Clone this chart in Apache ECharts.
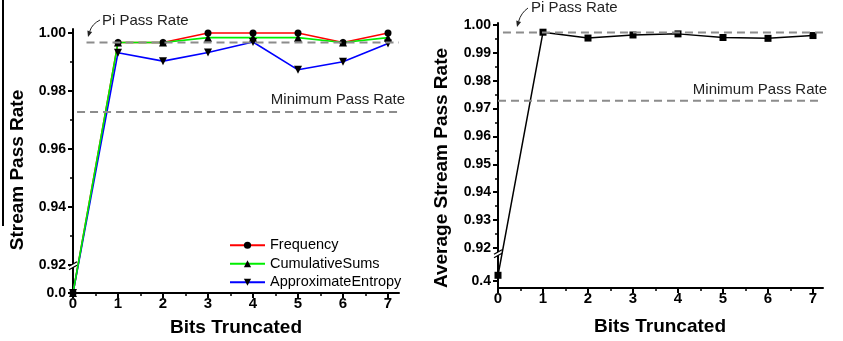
<!DOCTYPE html>
<html>
<head>
<meta charset="utf-8">
<script src="https://cdn.jsdelivr.net/npm/echarts@6.0.0/dist/echarts.min.js"></script>
<style>
html, body { margin: 0; padding: 0; background: #fff; }
#chart { width: 843px; height: 341px; }
</style>
</head>
<body>
<div id="chart"></div>
<script>
var bits = [0, 1, 2, 3, 4, 5, 6, 7];
var bitsMinor = [0.5, 1.5, 2.5, 3.5, 4.5, 5.5, 6.5];

var frequency = [0.0, 0.9967, 0.9967, 1.0, 1.0, 1.0, 0.9967, 1.0];
var cumulativeSums = [0.0, 0.9967, 0.9967, 0.9984, 0.9984, 0.9984, 0.9967, 0.9984];
var approximateEntropy = [0.0, 0.9932, 0.9903, 0.9933, 0.9969, 0.9873, 0.9901, 0.9964];
var averageRate = [0.42, 0.9974, 0.9953, 0.9964, 0.9968, 0.9955, 0.9952, 0.9962];

var piRateLeft = 0.9967;
var piRateRight = 0.9973;
var minPassRate = 0.9728;

var leftTicks = [0.0, 0.92, 0.94, 0.96, 0.98, 1.00];
var leftTickLabels = ['0.0', '0.92', '0.94', '0.96', '0.98', '1.00'];
var leftMinor = [0.93, 0.95, 0.97, 0.99];
var rightTicks = [0.4, 0.92, 0.93, 0.94, 0.95, 0.96, 0.97, 0.98, 0.99, 1.00];
var rightTickLabels = ['0.4', '0.92', '0.93', '0.94', '0.95', '0.96', '0.97', '0.98', '0.99', '1.00'];
var rightMinor = [0.925, 0.935, 0.945, 0.955, 0.965, 0.975, 0.985, 0.995];

// broken y axes: values under the break get squeezed into a short strip at the bottom
function leftY(v) { return v >= 0.9 ? v : 0.910345 + v * 0.01; }
function rightY(v) { return v >= 0.9 ? v : 0.90816 + (v - 0.4) * 0.1024; }

var FONT = '"Liberation Sans", Arial, sans-serif';

function pts(values, fy) {
    return bits.map(function (b, i) { return [b, fy(values[i])]; });
}

function labelFor(ticks, labels, fy) {
    return function (val) {
        for (var i = 0; i < ticks.length; i++) {
            if (Math.abs(fy(ticks[i]) - val) < 1e-6) return labels[i];
        }
        return '';
    };
}

// main axes: line + labels only
function xMain(grid, max) {
    return {
        type: 'value', gridIndex: grid, min: 0, max: max, position: 'bottom',
        axisLine: { onZero: false, lineStyle: { color: '#000', width: 2 } },
        axisTick: { show: false },
        axisLabel: { customValues: bits, margin: 3, color: '#000', fontSize: 15, fontWeight: 'bold', fontFamily: FONT },
        splitLine: { show: false }
    };
}
function yMain(grid, min, max, ticks, labels, fy) {
    return {
        type: 'value', gridIndex: grid, min: min, max: max, position: 'left',
        axisLine: { show: true, onZero: false, lineStyle: { color: '#000', width: 2 } },
        axisTick: { show: false },
        axisLabel: {
            customValues: ticks.map(fy), margin: 7, color: '#000', fontSize: 14,
            fontWeight: 'bold', fontFamily: FONT, formatter: labelFor(ticks, labels, fy)
        },
        splitLine: { show: false }
    };
}
// tick-only axes: put on the far side and pulled back onto the main axis line
function xTicks(grid, max, height, values, len, w) {
    return {
        type: 'value', gridIndex: grid, min: 0, max: max, position: 'top', offset: -height,
        axisLine: { show: false, onZero: false },
        axisTick: { show: true, inside: true, customValues: values, length: len, lineStyle: { color: '#000', width: w } },
        axisLabel: { show: false },
        splitLine: { show: false }
    };
}
function yTicks(grid, min, max, width, values, len, w) {
    return {
        type: 'value', gridIndex: grid, min: min, max: max, position: 'right', offset: -width,
        axisLine: { show: false, onZero: false },
        axisTick: { show: true, inside: true, customValues: values, length: len, lineStyle: { color: '#000', width: w } },
        axisLabel: { show: false },
        splitLine: { show: false }
    };
}

function refLine(xi, yi, x0, x1, y) {
    return {
        type: 'line', xAxisIndex: xi, yAxisIndex: yi, silent: true, symbol: 'none', z: 4,
        data: [[x0, y], [x1, y]],
        lineStyle: { color: '#8c8c8c', width: 2, type: [8, 5] }
    };
}

function arrow(x0, y0, cx, cy, x1, y1) {
    var dx = x1 - cx, dy = y1 - cy, len = Math.sqrt(dx * dx + dy * dy);
    var ux = dx / len, uy = dy / len, h = 6, w = 2.5;
    var bx = x1 - ux * h, by = y1 - uy * h;
    return [
        { type: 'bezierCurve', shape: { x1: x0, y1: y0, x2: bx, y2: by, cpx1: cx, cpy1: cy },
          style: { stroke: '#222', lineWidth: 1, fill: null } },
        { type: 'polygon', shape: { points: [[x1, y1], [bx - uy * w, by + ux * w], [bx + uy * w, by - ux * w]] },
          style: { fill: '#222' } }
    ];
}

function breakMark(x, y) {
    return [
        { type: 'polygon', z: 1, shape: { points: [[x - 2.5, y + 1.5], [x + 2.5, y - 1.5], [x + 2.5, y + 2], [x - 2.5, y + 5]] },
          style: { fill: '#fff' } },
        { type: 'line', z: 1, shape: { x1: x - 4, y1: y + 2.3, x2: x + 4, y2: y - 2.3 }, style: { stroke: '#000', lineWidth: 1.3 } },
        { type: 'line', z: 1, shape: { x1: x - 4, y1: y + 5.8, x2: x + 4, y2: y + 1.2 }, style: { stroke: '#000', lineWidth: 1.3 } }
    ];
}

var LEFT_W = 326, LEFT_H = 264, RIGHT_W = 325, RIGHT_H = 265;
var LEFT_MAX_X = LEFT_W / 45;
var RIGHT_MAX_X = RIGHT_W / 45;
var L_MIN = 0.910345, L_MAX = 1.00138;
var R_MIN = 0.90565, R_MAX = 1.0007;

var graphics = [
    { type: 'line', shape: { x1: 3, y1: 0, x2: 3, y2: 226 }, style: { stroke: '#000', lineWidth: 2 } },
    { type: 'text', x: 18, y: 170, rotation: Math.PI / 2,
      style: { text: 'Stream Pass Rate', font: 'bold 19px ' + FONT, fill: '#000', align: 'center', verticalAlign: 'middle' } },
    { type: 'text', x: 442, y: 168, rotation: Math.PI / 2,
      style: { text: 'Average Stream Pass Rate', font: 'bold 19px ' + FONT, fill: '#000', align: 'center', verticalAlign: 'middle' } },
    { type: 'text', x: 236, y: 328,
      style: { text: 'Bits Truncated', font: 'bold 19px ' + FONT, fill: '#000', align: 'center', verticalAlign: 'middle' } },
    { type: 'text', x: 660, y: 327,
      style: { text: 'Bits Truncated', font: 'bold 19px ' + FONT, fill: '#000', align: 'center', verticalAlign: 'middle' } },
    { type: 'text', x: 102, y: 21,
      style: { text: 'Pi Pass Rate', font: '15px ' + FONT, fill: '#222', align: 'left', verticalAlign: 'middle' } },
    { type: 'text', x: 531, y: 8,
      style: { text: 'Pi Pass Rate', font: '15px ' + FONT, fill: '#222', align: 'left', verticalAlign: 'middle' } },
    { type: 'text', x: 405, y: 100,
      style: { text: 'Minimum Pass Rate', font: '15px ' + FONT, fill: '#222', align: 'right', verticalAlign: 'middle' } },
    { type: 'text', x: 827, y: 90,
      style: { text: 'Minimum Pass Rate', font: '15px ' + FONT, fill: '#222', align: 'right', verticalAlign: 'middle' } }
].concat(arrow(100, 20, 92, 24, 88, 37))
 .concat(arrow(528, 8, 521, 13, 517, 27))
 .concat(breakMark(73, 264))
 .concat(breakMark(498, 252));

var myChart = echarts.init(document.getElementById('chart'), null, { renderer: 'canvas' });

option = {
    animation: false,
    backgroundColor: '#fff',
    grid: [
        { left: 73, top: 29, width: LEFT_W, height: LEFT_H },
        { left: 498, top: 23, width: RIGHT_W, height: RIGHT_H }
    ],
    xAxis: [
        xMain(0, LEFT_MAX_X),
        xTicks(0, LEFT_MAX_X, LEFT_H, bits, 5, 2),
        xTicks(0, LEFT_MAX_X, LEFT_H, bitsMinor, 3, 1.5),
        xMain(1, RIGHT_MAX_X),
        xTicks(1, RIGHT_MAX_X, RIGHT_H, bits, 5, 2),
        xTicks(1, RIGHT_MAX_X, RIGHT_H, bitsMinor, 3, 1.5)
    ],
    yAxis: [
        yMain(0, L_MIN, L_MAX, leftTicks, leftTickLabels, leftY),
        yTicks(0, L_MIN, L_MAX, LEFT_W, leftTicks.map(leftY), 5, 2),
        yTicks(0, L_MIN, L_MAX, LEFT_W, leftMinor, 3, 1.5),
        yMain(1, R_MIN, R_MAX, rightTicks, rightTickLabels, rightY),
        yTicks(1, R_MIN, R_MAX, RIGHT_W, rightTicks.map(rightY), 5, 2),
        yTicks(1, R_MIN, R_MAX, RIGHT_W, rightMinor, 3, 1.5)
    ],
    legend: {
        data: ['Frequency', 'CumulativeSums', 'ApproximateEntropy'],
        orient: 'vertical', left: 224, top: 231,
        itemWidth: 35, itemHeight: 9, itemGap: 0,
        textStyle: { fontSize: 14.5, fontFamily: FONT, color: '#000', lineHeight: 18.5 }
    },
    series: [
        {
            name: 'Frequency', type: 'line', xAxisIndex: 0, yAxisIndex: 0, clip: false,
            data: pts(frequency, leftY), symbol: 'circle', symbolSize: 7,
            lineStyle: { color: '#ff0000', width: 1.6 }, itemStyle: { color: '#000' }
        },
        {
            name: 'ApproximateEntropy', type: 'line', xAxisIndex: 0, yAxisIndex: 0, clip: false,
            data: pts(approximateEntropy, leftY), symbol: 'triangle', symbolRotate: 180, symbolSize: 8,
            lineStyle: { color: '#0000ff', width: 1.6 }, itemStyle: { color: '#000' }
        },
        {
            name: 'CumulativeSums', type: 'line', xAxisIndex: 0, yAxisIndex: 0, clip: false,
            data: pts(cumulativeSums, leftY), symbol: 'triangle', symbolSize: 8,
            lineStyle: { color: '#00ee00', width: 1.6 }, itemStyle: { color: '#000' }
        },
        refLine(0, 0, 0.3, LEFT_MAX_X, leftY(piRateLeft)),
        refLine(0, 0, 0.09, LEFT_MAX_X, leftY(minPassRate)),
        {
            name: 'Average', type: 'line', xAxisIndex: 3, yAxisIndex: 3, clip: false,
            data: pts(averageRate, rightY), symbol: 'rect', symbolSize: 7,
            lineStyle: { color: '#000', width: 1.5 }, itemStyle: { color: '#000' }
        },
        refLine(3, 3, 0.11, RIGHT_MAX_X, rightY(piRateRight)),
        refLine(3, 3, 0.0, RIGHT_MAX_X, rightY(minPassRate))
    ],
    graphic: graphics
};

myChart.setOption(option);
</script>
</body>
</html>
